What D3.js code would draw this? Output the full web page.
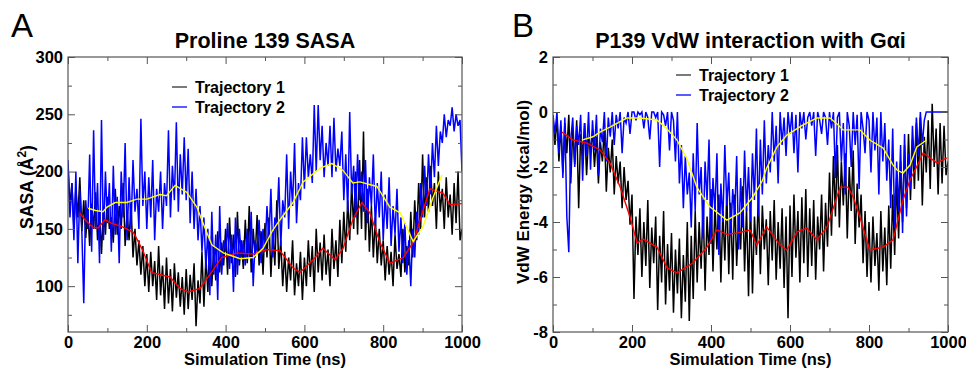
<!DOCTYPE html>
<html>
<head>
<meta charset="utf-8">
<script src="https://cdn.jsdelivr.net/npm/d3@7"></script>
<style>
  body { margin: 0; background: #fff; }
  text { font-family: "Liberation Sans", Arial, Helvetica, sans-serif; }
</style>
</head>
<body>
<div id="chart"></div>
<script>
// sampling of the raw trajectories (ns)
const sampleStep = 5;

const xTicks = [0, 200, 400, 600, 800, 1000];
const xMinor = [100, 300, 500, 700, 900];
const sasaTicks = [100, 150, 200, 250, 300];
const sasaMinor = [75, 125, 175, 225, 275];
const vdwTicks = [-8, -6, -4, -2, 0, 2];
const vdwMinor = [-7, -5, -3, -1, 1];
const legendNames = ["Trajectory 1", "Trajectory 2"];

// Panel A - SASA, trajectory 1 (black)
const sasaTraj1 = [
  205,170,190,150,185,160,195,148,175,142,
  168,135,172,150,182,140,165,128,170,145,
  178,150,160,138,185,145,170,150,190,135,
  165,140,172,125,150,118,140,110,135,100,
  128,95,130,100,122,88,135,92,118,80,
  125,85,115,78,120,90,112,82,108,75,
  115,80,110,88,120,65,105,85,130,82,
  125,95,140,100,135,105,148,112,138,118,
  150,110,160,120,145,108,165,118,140,115,
  158,120,170,112,150,125,162,118,148,110,
  155,125,160,108,148,118,175,115,140,100,
  130,95,125,105,140,92,120,100,130,88,
  125,100,140,108,135,95,150,112,138,105,
  145,110,132,100,150,115,140,108,158,120,
  165,130,175,140,190,150,200,145,210,150,
  235,140,185,130,170,125,160,120,150,118,
  140,105,135,110,130,100,145,115,128,108,
  150,112,135,118,165,125,175,140,190,150,
  215,160,195,165,205,170,190,150,200,165,
  185,150,195,160,180,145,190,155,200,140,
  150
];
// Panel A - SASA, trajectory 2 (blue)
const sasaTraj2 = [
  210,160,190,140,200,120,185,150,85,175,
  150,215,130,236,150,190,120,245,140,200,
  155,190,130,205,145,178,120,200,160,225,
  140,195,150,210,165,185,150,246,170,200,
  150,195,160,210,140,185,165,200,150,190,
  170,236,160,205,175,243,165,215,180,230,
  175,220,155,200,150,185,140,170,130,160,
  115,150,92,165,110,145,88,170,110,140,
  130,155,115,145,95,160,110,150,125,140,
  118,150,125,165,100,140,130,158,120,150,
  130,170,140,185,125,160,150,195,135,175,
  160,215,150,200,170,225,155,190,175,230,
  185,230,195,215,190,258,200,258,210,240,
  195,225,205,240,195,247,200,220,205,235,
  175,215,165,252,180,205,160,215,175,200,
  165,210,155,195,170,215,150,190,160,200,
  140,180,150,195,135,170,145,185,130,160,
  120,155,110,140,100,150,125,165,145,190,
  160,205,170,215,180,225,195,240,205,235,
  225,250,230,245,240,256,235,250,240,245,
  200
];
// Panel A - running averages
const sasaAvg1Time = [30,43,64,77,94,110,137,166,190,212,235,259,284,305,335,360,390,430,470,505,538,571,589,622,647,678,698,723,746,766,792,817,851,876,901,919,952,970,1000];
const sasaAvg1 = [164,158,151,151,158,155,152,147,131,112,110,108,98,95,98,110,125,129,128,132,131,116,112,123,133,123,133,158,173,164,138,120,125,138,166,185,181,171,172];
const sasaAvg2Time = [51,70,89,99,120,149,175,200,233,250,272,301,327,343,365,394,437,470,495,520,538,571,597,640,670,698,723,741,784,817,843,876,901,926,949];
const sasaAvg2 = [168,166,165,169,173,173,176,176,180,179,188,182,169,155,136,129,124,125,133,149,158,173,191,203,207,201,190,191,187,169,164,139,152,177,197];

// Panel B - VdW energy, trajectory 1 (black)
const vdwTraj1 = [
  -0.3,-1.2,-0.2,-1.8,-0.5,-2.2,-0.4,-1.5,-0.1,-2.6,
  -0.6,-1.9,-0.3,-3.5,-0.8,-1.6,-0.4,-2.3,-0.9,-1.4,
  -0.7,-2.0,-0.9,-2.6,-1.1,-1.8,-0.6,-2.9,-1.3,-2.2,
  -1.0,-3.0,-1.6,-2.6,-1.8,-3.5,-2.0,-3.2,-2.5,-4.1,
  -3.0,-6.8,-3.8,-5.2,-3.5,-6.0,-4.0,-5.6,-3.2,-6.4,
  -4.2,-5.5,-3.8,-7.2,-4.5,-6.2,-3.6,-7.0,-4.8,-6.5,
  -4.4,-7.3,-5.0,-6.6,-4.6,-7.5,-5.2,-6.9,-4.0,-7.6,
  -4.5,-6.8,-3.6,-6.2,-4.0,-5.7,-3.2,-6.5,-3.8,-5.2,
  -2.8,-5.8,-3.4,-5.0,-3.0,-6.2,-3.6,-5.4,-2.9,-5.9,
  -3.3,-6.1,-3.0,-5.6,-3.8,-5.0,-2.7,-5.8,-3.5,-6.7,
  -3.2,-6.6,-3.8,-5.2,-3.0,-5.9,-3.4,-5.0,-3.9,-6.3,
  -3.6,-5.4,-3.2,-6.1,-4.0,-5.7,-3.5,-6.4,-3.8,-7.5,
  -3.4,-6.0,-3.0,-5.3,-3.6,-6.2,-3.1,-5.5,-2.8,-6.0,
  -3.5,-5.6,-3.2,-6.1,-3.8,-5.0,-3.0,-5.8,-3.3,-4.9,
  -2.2,-4.5,-1.6,-3.8,-1.2,-4.2,-1.8,-3.4,-1.5,-4.6,
  -2.0,-3.6,-1.4,-4.8,-2.6,-4.2,-3.0,-5.5,-3.6,-6.0,
  -4.0,-6.2,-3.8,-5.6,-4.4,-6.5,-3.6,-5.8,-4.2,-6.3,
  -3.4,-5.7,-3.0,-5.2,-2.4,-4.6,-1.8,-4.0,-1.2,-3.5,
  -0.8,-3.2,-1.0,-2.8,-0.4,-2.5,-0.2,-3.4,-0.9,-2.2,
  -0.3,-2.8,0.3,-2.0,-0.6,-3.0,-0.4,-2.6,-0.5,-2.3,
  -1.8
];
// Panel B - VdW energy, trajectory 2 (blue)
const vdwTraj2 = [
  -0.1,-0.8,0.0,-1.5,-0.3,-2.4,-0.2,-3.8,-5.1,-1.0,
  -0.2,-2.0,-0.5,-1.2,-0.1,-2.5,-0.4,-1.6,0.0,-2.1,
  -0.3,-1.4,-0.1,-2.3,-0.6,-1.1,0.0,-1.8,-0.2,-0.9,
  0.0,-1.2,-0.1,-0.6,0.0,-1.5,-0.2,-0.4,0.0,-0.8,
  0.0,0.0,-0.3,0.0,-0.1,0.0,-0.6,0.0,-0.2,-1.0,
  0.0,0.0,-0.2,0.0,-2.0,0.0,-0.1,-0.5,0.0,-1.4,
  0.0,-0.3,-1.8,0.0,-2.6,-1.2,-3.5,-1.6,-3.0,-2.2,
  -4.2,-1.5,-3.6,-0.4,-3.0,-2.0,-4.6,-1.8,-3.2,-1.0,
  -4.8,-2.4,-3.6,-1.5,-5.2,-2.6,-4.0,-1.2,-3.4,-2.2,
  -4.5,-2.8,-3.8,-1.6,-5.0,-2.4,-4.2,-1.4,-3.6,-2.0,
  -4.0,-1.5,-3.2,-0.6,-3.8,-1.0,-3.0,-0.3,-2.6,-1.2,
  -2.2,0.0,-1.8,-0.5,-2.6,0.0,-1.2,-0.2,-1.6,0.0,
  -0.8,0.0,-1.5,-0.1,-2.2,0.0,-0.6,0.0,-1.0,-0.2,
  0.0,-0.5,0.0,-1.6,0.0,-0.3,-0.8,0.0,-0.2,-1.2,
  0.0,-0.6,0.0,-2.4,-0.2,0.0,-1.8,-0.4,-3.0,0.0,
  -0.5,-2.0,0.0,-1.2,-0.1,-2.8,0.0,-0.6,-1.5,0.0,
  -0.3,-2.2,0.0,-1.4,-0.2,-3.0,0.0,-1.8,-0.4,-2.5,
  -1.0,-3.5,-0.6,-4.2,-1.8,-3.6,-1.2,-4.4,-0.8,-3.8,
  -1.5,-2.8,-0.5,-2.0,-0.2,-1.6,0.0,-1.2,-0.3,0.0,
  0.0,0.0,0.0,0.0,0.0,0.0,0.0,0.0,0.0,0.0,
  0.0
];
// Panel B - running averages
const vdwAvg1Time = [23,51,86,119,144,170,195,213,228,263,289,314,354,390,415,440,466,499,516,541,575,592,618,643,668,694,727,747,760,777,802,836,861,886,904,929,937,972,997];
const vdwAvg1 = [-0.73,-1.02,-1.13,-1.38,-1.85,-2.73,-3.82,-4.76,-4.62,-4.91,-5.67,-5.85,-5.49,-4.91,-4.29,-4.45,-4.4,-4.29,-4.84,-4.18,-4.84,-5.02,-4.36,-4.22,-4.65,-4.18,-2.73,-2.73,-3.09,-3.82,-5.02,-4.91,-4.65,-3.2,-2.47,-1.75,-1.49,-1.85,-1.67];
const vdwAvg2Time = [73,101,119,144,187,220,263,284,314,339,364,397,440,473,506,530,541,567,592,633,668,701,722,734,777,802,836,861,871,886,904,921,946];
const vdwAvg2 = [-1.02,-0.9,-0.73,-0.55,-0.22,-0.22,-0.29,-0.55,-1.02,-1.7,-2.73,-3.45,-3.93,-3.67,-3.09,-2.5,-2.04,-1.27,-0.84,-0.47,-0.22,-0.22,-0.47,-0.65,-0.65,-1.02,-1.31,-1.93,-2.11,-2.22,-1.93,-1.27,-1.02];

const width = 966, height = 368;
const svg = d3.select("#chart").append("svg")
    .attr("width", width)
    .attr("height", height)
    .style("background", "#fff");

function drawPanel(p) {
    const x = d3.scaleLinear().domain([0, 1000]).range([p.left, p.right]);
    const y = d3.scaleLinear().domain(p.yDomain).range([p.bottom, p.top]);
    const g = svg.append("g");

    g.append("clipPath").attr("id", "clip" + p.id)
        .append("rect")
        .attr("x", p.left).attr("y", p.top)
        .attr("width", p.right - p.left).attr("height", p.bottom - p.top);

    const plot = g.append("g").attr("clip-path", "url(#clip" + p.id + ")");

    const rawLine = d3.line()
        .x((d, i) => x(i * sampleStep))
        .y(d => y(d));
    const avgLine = times => d3.line()
        .x((d, i) => x(times[i]))
        .y(d => y(d));

    plot.append("path").datum(p.traj1)
        .attr("d", rawLine).attr("fill", "none")
        .attr("stroke", "#000").attr("stroke-width", 1.5);
    plot.append("path").datum(p.traj2)
        .attr("d", rawLine).attr("fill", "none")
        .attr("stroke", "#0000ff").attr("stroke-width", 1.5);
    plot.append("path").datum(p.avg1)
        .attr("d", avgLine(p.avg1Time)).attr("fill", "none")
        .attr("stroke", "#ff0000").attr("stroke-width", 1.4);
    plot.append("path").datum(p.avg2)
        .attr("d", avgLine(p.avg2Time)).attr("fill", "none")
        .attr("stroke", "#ffff00").attr("stroke-width", 1.4);

    // axes: inward ticks on all four sides
    const tickStyle = sel => {
        sel.select(".domain").remove();
        sel.selectAll("line").attr("stroke", "#555");
        sel.selectAll("text")
            .style("font-size", "16.5px")
            .style("font-weight", "bold")
            .attr("fill", "#000");
    };
    g.append("g").attr("transform", `translate(0,${p.bottom})`)
        .call(d3.axisBottom(x).tickValues(xTicks).tickSize(-7).tickPadding(4).tickFormat(d => String(d)))
        .call(tickStyle);
    g.append("g").attr("transform", `translate(0,${p.bottom})`)
        .call(d3.axisBottom(x).tickValues(xMinor).tickSize(-4).tickFormat(""))
        .call(tickStyle);
    g.append("g").attr("transform", `translate(0,${p.top})`)
        .call(d3.axisTop(x).tickValues(xTicks).tickSize(-7).tickFormat(""))
        .call(tickStyle);
    g.append("g").attr("transform", `translate(0,${p.top})`)
        .call(d3.axisTop(x).tickValues(xMinor).tickSize(-4).tickFormat(""))
        .call(tickStyle);
    g.append("g").attr("transform", `translate(${p.left},0)`)
        .call(d3.axisLeft(y).tickValues(p.yTicks).tickSize(-7).tickPadding(5).tickFormat(d => String(d)))
        .call(tickStyle);
    g.append("g").attr("transform", `translate(${p.left},0)`)
        .call(d3.axisLeft(y).tickValues(p.yMinor).tickSize(-4).tickFormat(""))
        .call(tickStyle);
    g.append("g").attr("transform", `translate(${p.right},0)`)
        .call(d3.axisRight(y).tickValues(p.yTicks).tickSize(-7).tickFormat(""))
        .call(tickStyle);
    g.append("g").attr("transform", `translate(${p.right},0)`)
        .call(d3.axisRight(y).tickValues(p.yMinor).tickSize(-4).tickFormat(""))
        .call(tickStyle);

    g.append("rect")
        .attr("x", p.left).attr("y", p.top)
        .attr("width", p.right - p.left).attr("height", p.bottom - p.top)
        .attr("fill", "none").attr("stroke", "#555").attr("stroke-width", 1.2);

    // title, panel letter, axis labels
    g.append("text")
        .attr("x", (p.left + p.right) / 2).attr("y", 48)
        .attr("text-anchor", "middle")
        .style("font-size", "21.5px").style("font-weight", "bold")
        .text(p.title);
    g.append("text")
        .attr("x", p.letterX).attr("y", 37)
        .style("font-size", "33px")
        .text(p.letter);
    g.append("text")
        .attr("x", (p.left + p.right) / 2).attr("y", 365)
        .attr("text-anchor", "middle")
        .style("font-size", "16.5px").style("font-weight", "bold")
        .text("Simulation Time (ns)");
    const yl = g.append("text")
        .attr("transform", `translate(${p.yLabelX},${p.yLabelY}) rotate(-90)`)
        .attr("text-anchor", "middle")
        .style("font-size", p.yLabelSize).style("font-weight", "bold");
    p.yLabel(yl);

    // legend
    legendNames.forEach((name, i) => {
        const ly = p.legendY + i * 20;
        g.append("line")
            .attr("x1", p.legendX).attr("x2", p.legendX + 15)
            .attr("y1", ly).attr("y2", ly)
            .attr("stroke", i === 0 ? "#333" : "#0000ff").attr("stroke-width", 1.3);
        g.append("text")
            .attr("x", p.legendX + 23).attr("y", ly + 6)
            .style("font-size", "16px").style("font-weight", "bold")
            .text(name);
    });
}

drawPanel({
    id: "A", letter: "A", letterX: 11,
    left: 68, right: 462, top: 57, bottom: 332,
    yDomain: [60, 300], yTicks: sasaTicks, yMinor: sasaMinor,
    traj1: sasaTraj1, traj2: sasaTraj2,
    avg1: sasaAvg1, avg1Time: sasaAvg1Time,
    avg2: sasaAvg2, avg2Time: sasaAvg2Time,
    title: "Proline 139 SASA",
    yLabelX: 33, yLabelY: 187, yLabelSize: "17.5px",
    yLabel: t => {
        t.append("tspan").text("SASA (Å");
        t.append("tspan").attr("baseline-shift", "super").style("font-size", "12px").text("2");
        t.append("tspan").text(")");
    },
    legendX: 172, legendY: 87
});

drawPanel({
    id: "B", letter: "B", letterX: 512,
    left: 553, right: 948, top: 57, bottom: 332,
    yDomain: [-8, 2], yTicks: vdwTicks, yMinor: vdwMinor,
    traj1: vdwTraj1, traj2: vdwTraj2,
    avg1: vdwAvg1, avg1Time: vdwAvg1Time,
    avg2: vdwAvg2, avg2Time: vdwAvg2Time,
    title: "P139 VdW interaction with Gαi",
    yLabelX: 529, yLabelY: 192, yLabelSize: "17px",
    yLabel: t => t.text("VdW Energy (kcal/mol)"),
    legendX: 676, legendY: 75
});
</script>
</body>
</html>
